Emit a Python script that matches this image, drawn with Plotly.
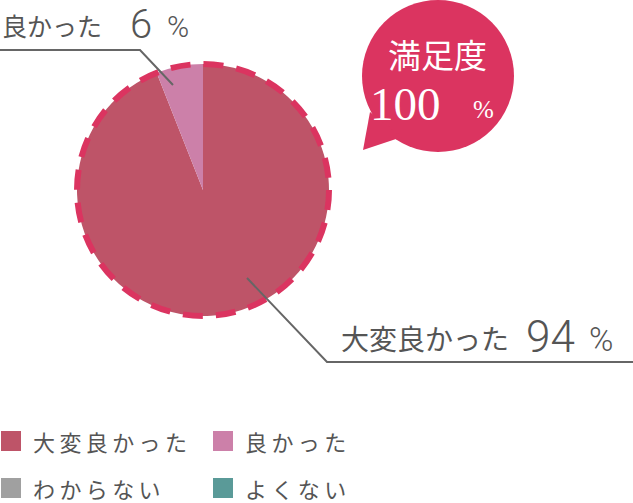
"""
満足度の円グラフ (Plotly)
"""

import plotly.graph_objects as go

# データ
labels = ["大変良かった", "良かった", "わからない", "よくない"]
values = [94, 6, 0, 0]
colors = ["#BE5468", "#CC80A9", "#A0A0A0", "#5A9A98"]
satisfaction = 100

W, H = 633, 503
GRAY = "#555555"
RED = "#DB3460"
JP = "Noto Sans CJK JP"
NUM = "Roboto"

# 円の位置 (px)
cx, cy, r = 203, 190, 126

fig = go.Figure()

# 座標用の見えない軸
fig.add_trace(go.Scatter(x=[0, W], y=[0, H], mode="markers",
                         marker=dict(opacity=0), hoverinfo="skip", showlegend=False))

fig.add_trace(
    go.Pie(
        labels=labels,
        values=values,
        marker=dict(colors=colors, line=dict(width=0)),
        sort=False,
        direction="clockwise",
        textinfo="none",
        hoverinfo="label+percent",
        showlegend=False,
        domain=dict(x=[(cx - r) / W, (cx + r) / W],
                    y=[1 - (cy + r) / H, 1 - (cy - r) / H]),
    )
)

shapes = []
annotations = []

# 破線の縁
shapes.append(dict(type="circle", xref="x", yref="y",
                   x0=cx - r, x1=cx + r, y0=cy - r, y1=cy + r,
                   line=dict(color=RED, width=6, dash="20px,13px")))

# 吹き出し
bx, by, br = 438, 76, 76
shapes.append(dict(type="circle", xref="x", yref="y",
                   x0=bx - br, x1=bx + br, y0=by - br, y1=by + br,
                   fillcolor=RED, line=dict(width=0), layer="above"))
shapes.append(dict(type="path", xref="x", yref="y",
                   path="M 370 112 L 363 150 L 402 137 Z",
                   fillcolor=RED, line=dict(width=0), layer="above"))

annotations.append(dict(x=437, y=54, text="満足度", showarrow=False,
                        font=dict(family=JP, size=33, color="white")))
annotations.append(dict(x=368, y=104, text=str(satisfaction), showarrow=False, xanchor="left",
                        font=dict(family="Liberation Serif", size=47, color="white")))
annotations.append(dict(x=483, y=109, text="%", showarrow=False,
                        font=dict(family="Liberation Serif", size=25, color="white")))

# 引き出し線
shapes.append(dict(type="path", xref="x", yref="y",
                   path="M 0 50 L 140 50 L 173 85",
                   line=dict(color="#666666", width=2)))
shapes.append(dict(type="path", xref="x", yref="y",
                   path="M 247 278 L 327 362 L 633 362",
                   line=dict(color="#666666", width=2)))

# ラベル
annotations.append(dict(x=0, y=25, text=labels[1], showarrow=False, xanchor="left",
                        font=dict(family=JP, size=25, color=GRAY)))
annotations.append(dict(x=129, y=24, text=str(values[1]), showarrow=False, xanchor="left",
                        borderpad=0,
                        font=dict(family=NUM, size=40, color=GRAY, weight=300)))
annotations.append(dict(x=165, y=26, text="%", showarrow=False, xanchor="left",
                        font=dict(family=NUM, size=30, color=GRAY, weight=300)))

annotations.append(dict(x=339, y=338, text=labels[0], showarrow=False, xanchor="left",
                        font=dict(family=JP, size=28, color=GRAY)))
annotations.append(dict(x=524, y=337, text=str(values[0]), showarrow=False, xanchor="left",
                        font=dict(family=NUM, size=44, color=GRAY, weight=300)))
annotations.append(dict(x=587, y=339, text="%", showarrow=False, xanchor="left",
                        font=dict(family=NUM, size=33, color=GRAY, weight=300)))

# 凡例 (2列)
leg_pos = [(1, 441), (213, 441), (1, 488), (213, 488)]
for (lx, ly), lab, col in zip(leg_pos, labels, colors):
    shapes.append(dict(type="rect", xref="x", yref="y",
                       x0=lx, x1=lx + 20, y0=ly - 10, y1=ly + 10,
                       fillcolor=col, line=dict(width=0)))
    annotations.append(dict(x=lx + 31, y=ly, text="\u2009".join(lab), showarrow=False,
                            xanchor="left", borderpad=0,
                            font=dict(family=JP, size=22, color=GRAY)))

fig.update_layout(
    width=W,
    height=H,
    margin=dict(l=0, r=0, t=0, b=0),
    paper_bgcolor="white",
    plot_bgcolor="white",
    xaxis=dict(range=[0, W], visible=False, fixedrange=True),
    yaxis=dict(range=[H, 0], visible=False, fixedrange=True),
    shapes=shapes,
    annotations=annotations,
)

# ページの余白をなくす
fig.write_html("out.html", config={"displayModeBar": False},
               post_script="document.body.style.margin='0';")
